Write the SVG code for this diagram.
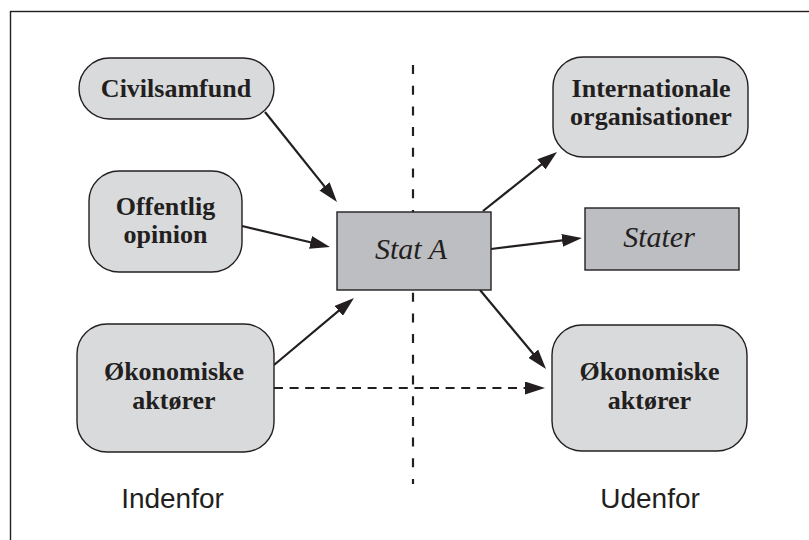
<svg xmlns="http://www.w3.org/2000/svg" width="809" height="540" viewBox="0 0 809 540">
<defs>
<style>
.box{fill:#d9dadc;stroke:#231f20;stroke-width:1.4}
.dark{fill:#bdbec1;stroke:#231f20;stroke-width:1.4}
.t{font-weight:bold;font-size:26px;fill:#231f20;text-anchor:middle}
.ti{font-style:italic;font-size:30px;fill:#231f20;text-anchor:middle}
.s{font-size:28px;fill:#231f20;text-anchor:middle}
.arr{fill:none;stroke:#231f20;stroke-width:2.2;marker-end:url(#ah)}
.dash{fill:none;stroke:#231f20;stroke-width:2.2}
</style>
<marker id="ah" markerUnits="userSpaceOnUse" markerWidth="20" markerHeight="13" refX="15" refY="6.5" orient="auto">
<path d="M0,0 L20,6.5 L0,13 z" fill="#231f20"/>
</marker>
</defs>
<rect width="809" height="540" fill="#ffffff"/>
<rect x="10.5" y="11.5" width="820" height="560" fill="none" stroke="#231f20" stroke-width="1.4"/>

<g id="divider">
<line class="dash" x1="413" y1="65" x2="413" y2="484" stroke-dasharray="9 11.7"/>
</g>

<g id="connectors">
<path class="arr" d="M265,112 L333.9,198.1"/>
<path class="arr" d="M242,226 L325.1,245.8"/>
<path class="arr" d="M274,365 L350.2,301.2"/>
<path class="arr" d="M483,211 L553.1,155.1"/>
<path class="arr" d="M491,249 L577,238.6"/>
<path class="arr" d="M480,290 L542.8,365.2"/>
<path class="arr" d="M274,388 L540,388" stroke-dasharray="9 6.6"/>
</g>

<g font-family="'Liberation Serif', 'Times New Roman', serif">
<g id="civilsamfund">
<rect class="box" x="79" y="58" width="195" height="61" rx="30.5"/>
<text class="t" x="176" y="97">Civilsamfund</text>
</g>
<g id="offentlig">
<rect class="box" x="89" y="171" width="153" height="101" rx="30"/>
<text class="t" x="165.5" y="215">Offentlig</text>
<text class="t" x="165.5" y="243">opinion</text>
</g>
<g id="okonomiske-inde">
<rect class="box" x="77" y="324" width="197" height="128" rx="30"/>
<text class="t" x="174" y="380">Økonomiske</text>
<text class="t" x="174" y="409">aktører</text>
</g>
<g id="stat-a">
<rect class="dark" x="337" y="212" width="154" height="78"/>
<text class="ti" x="411" y="259">Stat A</text>
</g>
<g id="internationale">
<rect class="box" x="553" y="57" width="195" height="100" rx="30"/>
<text class="t" x="651" y="97">Internationale</text>
<text class="t" x="651" y="125">organisationer</text>
</g>
<g id="stater">
<rect class="dark" x="585" y="208" width="154" height="62"/>
<text class="ti" x="659" y="247">Stater</text>
</g>
<g id="okonomiske-ude">
<rect class="box" x="552" y="325" width="195" height="126" rx="30"/>
<text class="t" x="649.5" y="380">Økonomiske</text>
<text class="t" x="649.5" y="409">aktører</text>
</g>
</g>
<g id="labels" font-family="'Liberation Sans', Arial, sans-serif">
<text class="s" x="172.5" y="508">Indenfor</text>
<text class="s" x="650" y="508">Udenfor</text>
</g>
</svg>
